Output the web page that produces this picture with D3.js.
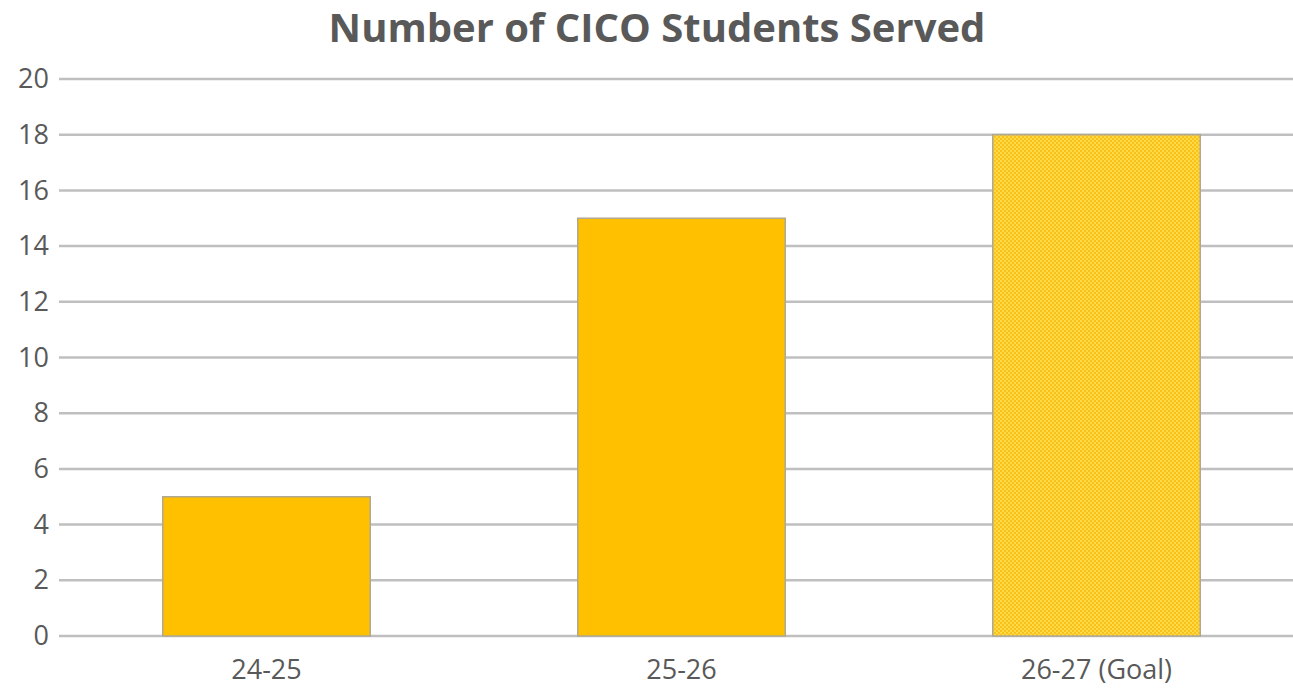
<!DOCTYPE html>
<html>
<head>
<meta charset="utf-8">
<script src="https://cdn.jsdelivr.net/npm/d3@7"></script>
<style>
  body { margin: 0; background: #fff; }
  svg text { font-family: "Open Sans", sans-serif; fill: #595959; }
</style>
</head>
<body>
<div id="chart"></div>
<script>
const categories = ['24-25', '25-26', '26-27 (Goal)'];
const values = [5, 15, 18];
const isGoal = [false, false, true];
const yTicks = [0, 2, 4, 6, 8, 10, 12, 14, 16, 18, 20];

const width = 1293, height = 690;
const margin = { left: 59, right: -11, top: 79, bottom: 54 };

const svg = d3.select('#chart').append('svg')
    .attr('width', width)
    .attr('height', height);

// dotted fill for the goal bar
const defs = svg.append('defs');
const pat = defs.append('pattern')
    .attr('id', 'dots')
    .attr('patternUnits', 'userSpaceOnUse')
    .attr('width', 4)
    .attr('height', 4);
pat.append('rect').attr('width', 4).attr('height', 4).attr('fill', '#f9c21a');
pat.append('circle').attr('cx', 1).attr('cy', 1).attr('r', 0.9).attr('fill', '#ffe55c');
pat.append('circle').attr('cx', 3).attr('cy', 3).attr('r', 0.9).attr('fill', '#ffe55c');

const x = d3.scaleBand()
    .domain(categories)
    .range([margin.left, width - margin.right])
    .paddingInner(0.5)
    .paddingOuter(0.25);

const y = d3.scaleLinear()
    .domain([0, 20])
    .range([height - margin.bottom, margin.top]);

svg.append('text')
    .attr('x', 657)
    .attr('y', 42)
    .attr('text-anchor', 'middle')
    .style('font-size', '40px')
    .style('font-weight', 'bold')
    .text('Number of CICO Students Served');

// gridlines
svg.append('g')
    .selectAll('line')
    .data(yTicks)
    .join('line')
    .attr('x1', margin.left)
    .attr('x2', width)
    .attr('y1', d => y(d))
    .attr('y2', d => y(d))
    .attr('stroke', '#bfbfbf')
    .attr('stroke-width', 2.5);

const yAxis = svg.append('g')
    .attr('transform', 'translate(' + (margin.left - 10) + ',0)')
    .call(d3.axisLeft(y).tickValues(yTicks).tickSize(0).tickPadding(0));
yAxis.select('.domain').remove();
yAxis.selectAll('text').style('font-size', '27px').attr('fill', '#595959');

svg.append('g')
    .selectAll('rect')
    .data(values)
    .join('rect')
    .attr('x', (d, i) => x(categories[i]))
    .attr('width', x.bandwidth())
    .attr('y', d => y(d))
    .attr('height', d => y(0) - y(d))
    .attr('fill', (d, i) => isGoal[i] ? 'url(#dots)' : '#ffc000')
    .attr('stroke', '#b0a890')
    .attr('stroke-width', 1.5);

const xAxis = svg.append('g')
    .attr('transform', 'translate(0,' + (height - margin.bottom) + ')')
    .call(d3.axisBottom(x).tickSize(0).tickPadding(0));
xAxis.select('.domain').remove();
xAxis.selectAll('text')
    .attr('dy', null)
    .attr('y', 43)
    .style('font-size', '27px')
    .attr('fill', '#595959');
</script>
</body>
</html>
